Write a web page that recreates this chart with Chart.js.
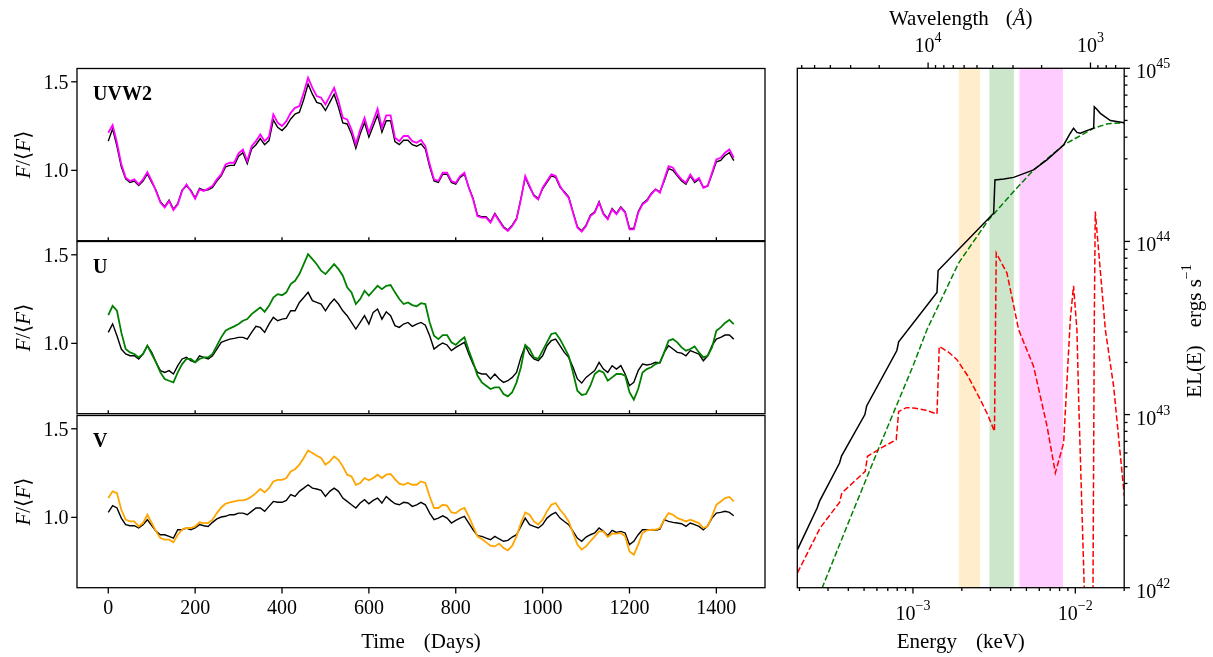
<!DOCTYPE html>
<html><head><meta charset="utf-8">
<script src="https://cdn.jsdelivr.net/npm/chart.js@4.4.0/dist/chart.umd.min.js"></script>
<style>
html,body{margin:0;padding:0;background:#fff;}
#wrap{position:relative;width:1213px;height:657px;overflow:hidden;background:#fff;}
canvas{position:absolute;left:0;top:0;}
</style></head><body><div id="wrap">
<canvas id="c1" width="1213" height="657"></canvas>
<canvas id="c2" width="1213" height="657"></canvas>
<canvas id="c3" width="1213" height="657"></canvas>
<canvas id="c4" width="1213" height="657"></canvas>
</div>
<script>
// ---------- time-series data (days, F/<F>) ----------
const days = [0,10,20,30,40,50,60,70,80,90,100,110,120,130,140,150,160,170,180,190,200,210,220,230,240,250,260,270,280,290,300,310,320,330,340,350,360,370,380,390,400,410,420,430,440,450,460,470,480,490,500,510,520,530,540,550,560,570,580,590,600,610,620,630,640,650,660,670,680,690,700,710,720,730,740,750,760,770,780,790,800,810,820,830,840,850,860,870,880,890,900,910,920,930,940,950,960,970,980,990,1000,1010,1020,1030,1040,1050,1060,1070,1080,1090,1100,1110,1120,1130,1140,1150,1160,1170,1180,1190,1200,1210,1220,1230,1240,1250,1260,1270,1280,1290,1300,1310,1320,1330,1340,1350,1360,1370,1380,1390,1400,1410,1420,1430,1440];

const uvw2 = [1.212,1.255,1.156,1.034,0.959,0.94,0.949,0.921,0.949,0.99,0.94,0.883,0.818,0.79,0.827,0.776,0.808,0.883,0.921,0.883,0.84,0.893,0.883,0.897,0.912,0.949,0.977,1.034,1.043,1.043,1.096,1.118,1.053,1.137,1.165,1.203,1.165,1.19,1.316,1.269,1.25,1.278,1.325,1.353,1.363,1.438,1.523,1.466,1.419,1.41,1.372,1.419,1.466,1.391,1.297,1.288,1.231,1.147,1.231,1.297,1.212,1.278,1.348,1.241,1.31,1.31,1.184,1.165,1.194,1.194,1.165,1.156,1.171,1.137,1.034,0.949,0.94,0.987,0.987,0.94,0.93,0.968,0.987,0.902,0.836,0.742,0.733,0.733,0.705,0.752,0.714,0.677,0.658,0.686,0.724,0.836,0.968,0.912,0.855,0.836,0.902,0.94,0.977,0.968,0.912,0.874,0.846,0.761,0.677,0.654,0.686,0.742,0.761,0.818,0.752,0.724,0.78,0.752,0.789,0.761,0.667,0.667,0.761,0.808,0.827,0.865,0.893,0.874,0.949,1.024,1.015,0.977,0.949,0.93,0.977,0.94,0.958,0.902,0.912,0.987,1.062,1.071,1.1,1.118,1.071];
const uvw2Model = [1.165,1.235,1.135,1.02,0.952,0.932,0.94,0.914,0.94,0.98,0.932,0.888,0.823,0.795,0.832,0.781,0.813,0.888,0.913,0.888,0.845,0.898,0.888,0.89,0.904,0.94,0.969,1.02,1.028,1.028,1.08,1.1,1.038,1.12,1.145,1.18,1.145,1.168,1.285,1.243,1.225,1.25,1.29,1.318,1.328,1.4,1.487,1.43,1.384,1.375,1.338,1.384,1.43,1.356,1.268,1.262,1.206,1.125,1.206,1.27,1.188,1.25,1.313,1.215,1.28,1.28,1.162,1.145,1.17,1.17,1.145,1.136,1.15,1.12,1.02,0.94,0.932,0.978,0.978,0.932,0.922,0.96,0.978,0.905,0.841,0.747,0.738,0.738,0.71,0.757,0.719,0.682,0.663,0.691,0.729,0.841,0.96,0.905,0.86,0.841,0.896,0.932,0.969,0.96,0.905,0.879,0.851,0.766,0.682,0.659,0.691,0.747,0.766,0.823,0.757,0.729,0.785,0.757,0.794,0.766,0.672,0.672,0.766,0.813,0.832,0.87,0.893,0.879,0.94,1.01,1.0,0.969,0.94,0.922,0.969,0.932,0.95,0.905,0.912,0.978,1.048,1.056,1.084,1.1,1.055];

const uBand = [1.16,1.212,1.184,1.062,0.968,0.949,0.94,0.921,0.94,0.987,0.94,0.893,0.836,0.799,0.789,0.78,0.836,0.883,0.912,0.912,0.893,0.912,0.921,0.921,0.94,0.987,1.034,1.071,1.085,1.096,1.109,1.128,1.137,1.165,1.184,1.203,1.178,1.212,1.259,1.278,1.272,1.288,1.335,1.353,1.391,1.447,1.504,1.476,1.447,1.41,1.391,1.419,1.447,1.419,1.382,1.316,1.288,1.222,1.25,1.297,1.269,1.297,1.325,1.306,1.325,1.329,1.288,1.25,1.222,1.231,1.216,1.209,1.227,1.222,1.118,1.043,1.024,1.047,1.047,1.006,0.991,1.015,1.034,0.959,0.893,0.818,0.78,0.761,0.742,0.752,0.752,0.714,0.701,0.724,0.78,0.865,0.991,0.968,0.921,0.912,0.959,1.006,1.053,1.059,1.024,0.977,0.93,0.836,0.733,0.709,0.714,0.761,0.827,0.846,0.836,0.789,0.808,0.827,0.827,0.818,0.724,0.682,0.742,0.836,0.855,0.865,0.883,0.893,0.949,1.015,1.024,1.006,0.977,0.959,0.968,0.983,0.949,0.921,0.93,0.977,1.071,1.09,1.115,1.133,1.109];
const uModel = [1.062,1.11,1.043,0.968,0.94,0.93,0.93,0.912,0.94,0.987,0.949,0.893,0.846,0.836,0.846,0.827,0.874,0.912,0.921,0.902,0.893,0.93,0.921,0.912,0.93,0.968,1.006,1.015,1.024,1.028,1.034,1.034,1.024,1.062,1.096,1.09,1.062,1.109,1.147,1.128,1.137,1.141,1.184,1.184,1.231,1.259,1.288,1.241,1.231,1.222,1.184,1.222,1.25,1.222,1.184,1.156,1.118,1.081,1.118,1.156,1.109,1.175,1.194,1.137,1.178,1.156,1.1,1.09,1.109,1.118,1.096,1.109,1.118,1.103,1.043,0.968,0.987,1.002,0.991,0.959,0.977,0.991,1.006,0.94,0.883,0.836,0.827,0.827,0.799,0.827,0.799,0.78,0.789,0.808,0.836,0.921,0.987,0.94,0.912,0.902,0.93,0.987,1.015,1.024,0.987,0.949,0.921,0.865,0.799,0.776,0.808,0.827,0.846,0.893,0.855,0.836,0.874,0.855,0.874,0.827,0.761,0.78,0.846,0.883,0.878,0.883,0.893,0.889,0.949,0.987,0.968,0.949,0.945,0.93,0.959,0.949,0.94,0.902,0.93,0.987,1.024,1.034,1.047,1.047,1.024];

const vBand = [1.109,1.147,1.137,1.043,0.987,0.977,0.977,0.949,0.968,1.015,0.968,0.921,0.883,0.874,0.874,0.859,0.902,0.93,0.94,0.94,0.949,0.972,0.968,0.968,0.987,1.024,1.056,1.077,1.085,1.09,1.096,1.096,1.103,1.118,1.137,1.16,1.141,1.165,1.203,1.212,1.212,1.222,1.259,1.272,1.297,1.335,1.378,1.363,1.348,1.335,1.297,1.316,1.344,1.325,1.288,1.241,1.231,1.184,1.194,1.222,1.209,1.222,1.241,1.222,1.241,1.245,1.216,1.19,1.184,1.194,1.184,1.184,1.203,1.194,1.118,1.053,1.053,1.071,1.066,1.028,1.024,1.043,1.053,1.006,0.949,0.893,0.878,0.859,0.84,0.836,0.852,0.827,0.814,0.84,0.893,0.968,1.028,1.015,0.977,0.959,0.987,1.034,1.071,1.081,1.043,1.015,0.977,0.912,0.846,0.818,0.836,0.865,0.893,0.921,0.921,0.889,0.908,0.908,0.912,0.893,0.808,0.789,0.846,0.912,0.927,0.93,0.93,0.94,0.987,1.024,1.015,0.996,0.987,0.977,0.987,0.977,0.968,0.94,0.949,1.006,1.071,1.09,1.109,1.115,1.09];
const vModel = [1.028,1.066,1.053,0.996,0.959,0.953,0.953,0.94,0.959,0.987,0.953,0.921,0.902,0.902,0.893,0.883,0.93,0.93,0.94,0.93,0.94,0.959,0.953,0.949,0.972,0.991,1.002,1.006,1.015,1.015,1.024,1.024,1.015,1.034,1.053,1.053,1.034,1.062,1.09,1.085,1.085,1.096,1.128,1.118,1.147,1.165,1.184,1.165,1.16,1.152,1.118,1.147,1.165,1.147,1.109,1.09,1.071,1.053,1.081,1.1,1.077,1.096,1.109,1.081,1.118,1.096,1.077,1.071,1.085,1.081,1.062,1.071,1.085,1.071,1.024,0.987,0.996,1.009,0.996,0.968,0.983,0.996,1.006,0.968,0.93,0.897,0.893,0.883,0.874,0.893,0.878,0.865,0.87,0.889,0.902,0.949,0.996,0.959,0.949,0.94,0.959,0.996,1.015,1.028,0.996,0.977,0.959,0.921,0.883,0.865,0.889,0.902,0.912,0.94,0.921,0.897,0.927,0.915,0.921,0.912,0.846,0.865,0.902,0.93,0.93,0.93,0.927,0.934,0.987,0.977,0.972,0.968,0.964,0.949,0.968,0.959,0.949,0.93,0.953,0.996,1.024,1.028,1.034,1.028,1.009];

const timeTicks = [0,200,400,600,800,1000,1200,1400];
const fluxTicks = [1.0,1.5];
const fluxTickLabels = ['1.0','1.5'];

// ---------- spectrum data (Energy keV, EL(E) erg/s) ----------
const totE = [1.945e-4,2.570e-4,2.661e-4,3.532e-4,3.631e-4,5.058e-4,5.188e-4,7.962e-4,8.166e-4,1.406e-3,1.429e-3,3.141e-3,3.199e-3,3.631e-3,4.169e-3,5.534e-3,6.683e-3,8.472e-3,9.311e-3,9.750e-3,1.023e-2,1.074e-2,1.175e-2,1.297e-2,1.309e-2,1.365e-2,1.426e-2,1.644e-2,2.004e-2];
const totL = [1.660e42,2.884e42,3.162e42,5.248e42,5.754e42,1.0e43,1.122e43,2.344e43,2.630e43,5.070e43,6.792e43,1.455e44,2.265e44,2.291e44,2.344e44,2.588e44,2.958e44,3.606e44,4.217e44,4.508e44,4.266e44,4.217e44,4.365e44,4.508e44,5.998e44,5.754e44,5.495e44,4.989e44,4.853e44];
const diskE = [2.630e-4,3.981e-4,6.310e-4,1.0e-3,1.219e-3,1.910e-3,2.924e-3,4.169e-3,5.534e-3,8.472e-3,1.297e-2,1.585e-2,2.004e-2];
const diskL = [8.913e41,2.344e42,6.761e42,1.905e43,3.090e43,7.499e43,1.334e44,1.941e44,2.588e44,3.606e44,4.508e44,4.786e44,4.853e44];
const repE = [1.945e-4,2.685e-4,3.532e-4,3.648e-4,5.082e-4,5.248e-4,6.457e-4,7.889e-4,8.166e-4,9.120e-4,1.009e-3,1.202e-3,1.406e-3,1.452e-3,1.660e-3,1.866e-3,2.188e-3,2.600e-3,2.884e-3,3.177e-3,3.258e-3,3.793e-3,4.477e-3,5.534e-3,6.699e-3,7.534e-3,8.472e-3,9.311e-3,9.750e-3,1.023e-2,1.050e-2,1.135e-2,1.208e-2,1.285e-2,1.309e-2,1.327e-2,1.531e-2,1.722e-2,2.004e-2];
const repL = [1.219e42,2.218e42,3.112e42,3.524e42,4.699e42,5.741e42,6.457e42,7.161e42,1.042e43,1.096e43,1.091e43,1.059e43,1.007e43,2.472e43,2.291e43,2.075e43,1.660e43,1.219e43,1.0e43,8.000e42,8.570e43,6.561e43,3.090e43,1.897e43,8.551e42,4.603e42,6.855e42,3.532e43,5.546e43,3.090e43,1.167e43,1.0e42,2.0e41,1.0e42,3.532e43,1.489e44,3.090e43,1.455e43,3.373e42];
// filter bands (keV): V, U, UVW2
const bandLo = [1.910e-3,2.951e-3,4.519e-3];
const bandHi = [2.600e-3,4.188e-3,8.395e-3];
const bandColors = ['rgba(255,165,0,0.2)','rgba(0,128,0,0.2)','rgba(255,0,255,0.2)'];

const energyMajor = [1e-3,1e-2];
const energyMajorExp = ['\u22123','\u22122'];
const lambdaMajor = [1e4,1e3];
const lambdaMajorExp = ['4','3'];
const lumMajor = [1e42,1e43,1e44,1e45];
const lumMajorExp = ['42','43','44','45'];
const HC = 12.398; // keV * Angstrom

// ---------- helpers ----------
const FAM = '"Liberation Serif","DejaVu Serif","Times New Roman",serif';
const TICKF = '20px ' + FAM;
const SUPF = '14px ' + FAM;
const LABF = '21px ' + FAM;
const LABI = 'italic 21px ' + FAM;

function drawParts(ctx, parts, x, y, align){
  const ws = parts.map(p => { if (p.gap !== undefined) return p.gap; ctx.font = p.f; return ctx.measureText(p.t).width; });
  const tot = ws.reduce((s,w)=>s+w,0);
  let cx = align === 'center' ? x - tot/2 : (align === 'right' ? x - tot : x);
  ctx.textAlign = 'left'; ctx.textBaseline = 'alphabetic';
  parts.forEach((p,i) => { if (p.gap === undefined) { ctx.font = p.f; ctx.fillText(p.t, cx, y + (p.dy||0)); } cx += ws[i]; });
}
function pow10(e){ return [{t:'10', f:TICKF},{t:e, f:SUPF, dy:-10}]; }
function seg(ctx,x1,y1,x2,y2){ ctx.beginPath(); ctx.moveTo(x1,y1); ctx.lineTo(x2,y2); ctx.stroke(); }

const baseOpts = (pad, scales) => ({
  responsive:false, animation:false, devicePixelRatio:1, events:[],
  layout:{padding:pad},
  elements:{point:{radius:0}, line:{tension:0, fill:false}},
  plugins:{legend:{display:false}, tooltip:{enabled:false}},
  scales: scales
});

function leftPlugin(label, isBottom){
  return { id:'lp', afterDraw(chart){
    const ctx = chart.ctx, a = chart.chartArea, xs = chart.scales.x, ys = chart.scales.y;
    ctx.save();
    ctx.strokeStyle = '#000'; ctx.fillStyle = '#000'; ctx.lineWidth = 1.3;
    ctx.strokeRect(a.left, a.top, a.right - a.left, a.bottom - a.top);
    fluxTicks.forEach((v,i) => { const py = ys.getPixelForValue(v); seg(ctx, a.left, py, a.left - 5.8, py); ctx.font = TICKF; ctx.textAlign='right'; ctx.textBaseline='alphabetic'; ctx.fillText(fluxTickLabels[i], a.left - 8.5, py + 7); });
    timeTicks.forEach(v => { const px = xs.getPixelForValue(v);
      if (isBottom) { seg(ctx, px, a.bottom, px, a.bottom + 5.8); ctx.font = TICKF; ctx.textAlign='center'; ctx.textBaseline='alphabetic'; ctx.fillText(String(v), px, 614); }
      else seg(ctx, px, a.bottom, px, a.bottom - 3.5);
    });
    ctx.font = 'bold 20px ' + FAM; ctx.textAlign = 'left'; ctx.textBaseline='alphabetic';
    ctx.fillText(label, a.left + 16, a.top + 31);
    ctx.save();
    ctx.translate(30, (a.top + a.bottom)/2); ctx.rotate(-Math.PI/2);
    drawParts(ctx, [{t:'F',f:LABI},{t:'/',f:LABF},{t:'\u27E8',f:LABF},{t:'F',f:LABI},{t:'\u27E9',f:LABF}], 0, 0, 'center');
    ctx.restore();
    if (isBottom) drawParts(ctx, [{t:'Time',f:LABF},{gap:19},{t:'(Days)',f:LABF}], (a.left + a.right)/2, 648, 'center');
    ctx.restore();
  }};
}

function series(vals){ return days.map((d,i) => ({x:d, y:vals[i]})); }

function makePanel(id, pad, vals, color, model, label, isBottom){
  new Chart(document.getElementById(id), {
    type:'line',
    data:{datasets:[
      {data:series(vals), borderColor:color, borderWidth:1.8, order:0},
      {data:series(model), borderColor:'#000', borderWidth:1.4, order:1}
    ]},
    options: baseOpts(pad, {
      x:{type:'linear', min:-72, max:1512, display:false},
      y:{type:'linear', min:0.603, max:1.575, display:false}
    }),
    plugins:[leftPlugin(label, isBottom)]
  });
}

makePanel('c1', {left:77, right:448, top:68.5, bottom:416.3}, uvw2, '#ff00ff', uvw2Model, 'UVW2', false);
makePanel('c2', {left:77, right:448, top:241.5, bottom:243.3}, uBand, '#008000', uModel, 'U', false);
makePanel('c3', {left:77, right:448, top:415.5, bottom:69.3}, vBand, '#ffa500', vModel, 'V', true);

// ---------- spectrum ----------
function pts(E, L){ return E.map((e,i) => ({x:e, y:L[i]})); }
const bandSets = bandLo.map((lo,i) => ({data:[{x:lo,y:1e45},{x:bandHi[i],y:1e45}], borderWidth:0, borderColor:'rgba(0,0,0,0)', backgroundColor:bandColors[i], fill:'start', order:5}));

const specPlugin = { id:'sp', afterDraw(chart){
  const ctx = chart.ctx, a = chart.chartArea, xs = chart.scales.x, ys = chart.scales.y;
  ctx.save();
  ctx.strokeStyle = '#000'; ctx.fillStyle = '#000'; ctx.lineWidth = 1.3;
  ctx.strokeRect(a.left, a.top, a.right - a.left, a.bottom - a.top);
  const inX = px => px >= a.left - 0.6 && px <= a.right + 0.6;
  // bottom energy ticks
  for (let d = -4; d <= -2; d++) for (let m = 2; m <= 9; m++) {
    const px = xs.getPixelForValue(m * Math.pow(10, d)); if (inX(px)) seg(ctx, px, a.bottom, px, a.bottom + 3.3);
  }
  energyMajor.forEach((v,i) => { const px = xs.getPixelForValue(v); seg(ctx, px, a.bottom, px, a.bottom + 5.8); drawParts(ctx, pow10(energyMajorExp[i]), px, 620, 'center'); });
  // top wavelength ticks
  for (let d = 2; d <= 4; d++) for (let m = 2; m <= 9; m++) {
    const px = xs.getPixelForValue(HC / (m * Math.pow(10, d))); if (inX(px)) seg(ctx, px, a.top, px, a.top - 3.3);
  }
  lambdaMajor.forEach((v,i) => { const px = xs.getPixelForValue(HC / v); seg(ctx, px, a.top, px, a.top - 5.8); drawParts(ctx, pow10(lambdaMajorExp[i]), px, 52, 'center'); });
  // right luminosity ticks
  for (let d = 42; d <= 44; d++) for (let m = 2; m <= 9; m++) {
    const py = ys.getPixelForValue(m * Math.pow(10, d)); seg(ctx, a.right, py, a.right + 3.3, py);
  }
  lumMajor.forEach((v,i) => { const py = ys.getPixelForValue(v); seg(ctx, a.right, py, a.right + 5.8, py); drawParts(ctx, pow10(lumMajorExp[i]), a.right + 12, py + 10, 'left'); });
  // axis labels
  drawParts(ctx, [{t:'Energy',f:LABF},{gap:19},{t:'(keV)',f:LABF}], (a.left + a.right)/2, 648, 'center');
  drawParts(ctx, [{t:'Wavelength',f:LABF},{gap:17},{t:'(',f:LABF},{t:'\u00C5',f:LABI},{t:')',f:LABF}], (a.left + a.right)/2, 25, 'center');
  ctx.save();
  ctx.translate(1201, 331); ctx.rotate(-Math.PI/2);
  drawParts(ctx, [{t:'EL(E)',f:LABF},{gap:18},{t:'ergs s',f:LABF},{t:'\u22121',f:SUPF,dy:-10}], 0, 0, 'center');
  ctx.restore();
  ctx.restore();
}};

new Chart(document.getElementById('c4'), {
  type:'line',
  data:{datasets:[
    {data:pts(totE, totL), borderColor:'#000', borderWidth:1.5, order:0},
    {data:pts(repE, repL), borderColor:'#ff0000', borderWidth:1.5, borderDash:[6,2.6], order:1},
    {data:pts(diskE, diskL), borderColor:'#008000', borderWidth:1.5, borderDash:[6,2.6], order:2}
  ].concat(bandSets)},
  options: baseOpts({left:797.3, right:88.8, top:68.3, bottom:69.3}, {
    x:{type:'logarithmic', min:1.94e-4, max:2.0e-2, display:false},
    y:{type:'logarithmic', min:1e42, max:1e45, display:false}
  }),
  plugins:[specPlugin]
});
</script>
</body></html>
